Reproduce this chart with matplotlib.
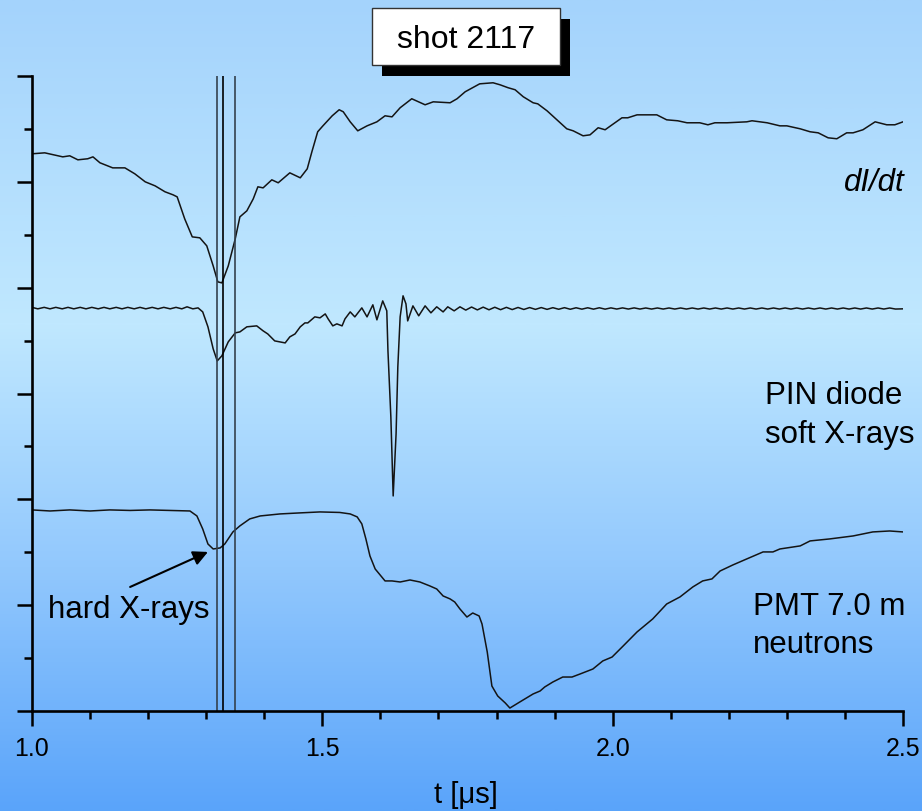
import numpy as np
import matplotlib
matplotlib.use("Agg")
import matplotlib.pyplot as plt
from matplotlib.colors import LinearSegmentedColormap
from matplotlib.patches import Rectangle
from matplotlib.ticker import MultipleLocator

plt.rcParams['font.family'] = ['Liberation Sans', 'DejaVu Sans']

# time base in microseconds, signals in (arbitrary) vertical divisions
didt_t = [1.000, 1.022, 1.053, 1.065, 1.079, 1.096, 1.105, 1.117, 1.139, 1.160,
          1.177, 1.195, 1.212, 1.229, 1.243, 1.250, 1.263, 1.276, 1.289, 1.301,
          1.312, 1.320, 1.327, 1.338, 1.350, 1.358, 1.370, 1.381, 1.389, 1.398,
          1.413, 1.424, 1.444, 1.462, 1.474, 1.482, 1.492, 1.501, 1.517, 1.529,
          1.536, 1.548, 1.561, 1.577, 1.594, 1.608, 1.620, 1.634, 1.654, 1.677,
          1.691, 1.720, 1.732, 1.746, 1.771, 1.794, 1.806, 1.820, 1.832, 1.846,
          1.863, 1.871, 1.887, 1.904, 1.921, 1.932, 1.949, 1.961, 1.975, 1.987,
          1.999, 2.016, 2.026, 2.042, 2.076, 2.093, 2.112, 2.128, 2.150, 2.164,
          2.176, 2.197, 2.231, 2.240, 2.266, 2.288, 2.300, 2.323, 2.340, 2.354,
          2.371, 2.386, 2.403, 2.414, 2.431, 2.452, 2.472, 2.486, 2.500]
didt_v = [5.265, 5.274, 5.236, 5.246, 5.208, 5.218, 5.236, 5.180, 5.132, 5.132,
          5.076, 5.000, 4.962, 4.906, 4.877, 4.858, 4.650, 4.480, 4.471, 4.395,
          4.206, 4.055, 4.045, 4.206, 4.461, 4.669, 4.726, 4.839, 4.953, 4.943,
          5.019, 4.991, 5.085, 5.038, 5.123, 5.284, 5.473, 5.529, 5.624, 5.681,
          5.662, 5.567, 5.482, 5.529, 5.567, 5.624, 5.614, 5.700, 5.785, 5.728,
          5.756, 5.747, 5.785, 5.851, 5.926, 5.936, 5.917, 5.889, 5.870, 5.804,
          5.747, 5.737, 5.671, 5.586, 5.501, 5.482, 5.435, 5.444, 5.511, 5.492,
          5.539, 5.605, 5.605, 5.633, 5.633, 5.586, 5.577, 5.558, 5.558, 5.539,
          5.558, 5.558, 5.567, 5.577, 5.558, 5.529, 5.529, 5.501, 5.473, 5.463,
          5.416, 5.407, 5.463, 5.463, 5.492, 5.567, 5.539, 5.539, 5.567]

pin_t = [1.000, 1.010, 1.021, 1.031, 1.041, 1.052, 1.062, 1.072, 1.083, 1.093,
         1.103, 1.114, 1.124, 1.134, 1.145, 1.155, 1.165, 1.176, 1.186, 1.196,
         1.207, 1.217, 1.227, 1.238, 1.248, 1.258, 1.267, 1.277, 1.286, 1.294,
         1.303, 1.312, 1.319, 1.327, 1.338, 1.350, 1.358, 1.370, 1.387, 1.398,
         1.406, 1.418, 1.427, 1.436, 1.444, 1.453, 1.462, 1.470, 1.475, 1.487,
         1.496, 1.505, 1.510, 1.518, 1.525, 1.534, 1.539, 1.548, 1.556, 1.568,
         1.577, 1.587, 1.594, 1.604, 1.611, 1.613, 1.618, 1.622, 1.627, 1.630,
         1.634, 1.639, 1.644, 1.647, 1.656, 1.666, 1.677, 1.687, 1.697, 1.708,
         1.716, 1.727, 1.737, 1.747, 1.757, 1.767, 1.777, 1.787, 1.797, 1.807,
         1.817, 1.827, 1.837, 1.847, 1.857, 1.867, 1.877, 1.887, 1.897, 1.907,
         1.917, 1.927, 1.937, 1.947, 1.957, 1.967, 1.977, 1.987, 1.997, 2.007,
         2.017, 2.027, 2.037, 2.047, 2.057, 2.067, 2.077, 2.087, 2.097, 2.107,
         2.117, 2.127, 2.137, 2.147, 2.157, 2.167, 2.177, 2.187, 2.197, 2.207,
         2.217, 2.227, 2.237, 2.247, 2.257, 2.267, 2.277, 2.287, 2.297, 2.307,
         2.317, 2.327, 2.337, 2.347, 2.357, 2.367, 2.377, 2.387, 2.397, 2.407,
         2.417, 2.427, 2.437, 2.447, 2.457, 2.467, 2.477, 2.487, 2.500]
pin_v = [3.814, 3.800, 3.814, 3.800, 3.814, 3.800, 3.814, 3.800, 3.814, 3.800,
         3.814, 3.800, 3.814, 3.800, 3.814, 3.800, 3.814, 3.800, 3.814, 3.800,
         3.814, 3.800, 3.814, 3.800, 3.814, 3.800, 3.819, 3.800, 3.809, 3.771,
         3.630, 3.422, 3.308, 3.356, 3.488, 3.573, 3.582, 3.630, 3.639, 3.592,
         3.563, 3.497, 3.488, 3.478, 3.535, 3.563, 3.630, 3.667, 3.667, 3.724,
         3.715, 3.752, 3.705, 3.639, 3.658, 3.639, 3.705, 3.771, 3.724, 3.809,
         3.724, 3.838, 3.696, 3.875, 3.781, 3.403, 2.779, 2.032, 2.618, 3.251,
         3.724, 3.923, 3.847, 3.686, 3.828, 3.734, 3.828, 3.762, 3.819, 3.771,
         3.819, 3.781, 3.819, 3.788, 3.817, 3.790, 3.816, 3.791, 3.815, 3.792,
         3.814, 3.793, 3.813, 3.794, 3.812, 3.795, 3.812, 3.795, 3.811, 3.796,
         3.811, 3.796, 3.810, 3.797, 3.810, 3.797, 3.810, 3.797, 3.809, 3.798,
         3.809, 3.798, 3.809, 3.798, 3.808, 3.798, 3.808, 3.798, 3.808, 3.798,
         3.808, 3.798, 3.808, 3.798, 3.808, 3.798, 3.808, 3.798, 3.808, 3.798,
         3.808, 3.798, 3.808, 3.798, 3.808, 3.798, 3.808, 3.798, 3.808, 3.798,
         3.808, 3.798, 3.808, 3.798, 3.808, 3.798, 3.808, 3.798, 3.808, 3.798,
         3.808, 3.798, 3.808, 3.798, 3.808, 3.798, 3.808, 3.798, 3.800]

pmt_t = [1.000, 1.031, 1.065, 1.100, 1.134, 1.169, 1.203, 1.272, 1.284, 1.294,
         1.303, 1.312, 1.324, 1.332, 1.346, 1.358, 1.375, 1.393, 1.427, 1.462,
         1.496, 1.530, 1.548, 1.560, 1.568, 1.575, 1.582, 1.591, 1.608, 1.620,
         1.634, 1.651, 1.668, 1.685, 1.697, 1.708, 1.720, 1.728, 1.737, 1.749,
         1.759, 1.770, 1.775, 1.784, 1.792, 1.802, 1.815, 1.823, 1.840, 1.863,
         1.875, 1.883, 1.897, 1.914, 1.930, 1.944, 1.966, 1.983, 1.999, 2.018,
         2.042, 2.069, 2.093, 2.116, 2.138, 2.155, 2.171, 2.185, 2.207, 2.231,
         2.259, 2.276, 2.288, 2.323, 2.340, 2.374, 2.414, 2.448, 2.477, 2.500]
pmt_v = [1.900, 1.890, 1.900, 1.890, 1.900, 1.895, 1.900, 1.890, 1.843, 1.720,
         1.578, 1.531, 1.541, 1.578, 1.692, 1.749, 1.815, 1.843, 1.862, 1.872,
         1.881, 1.876, 1.862, 1.834, 1.768, 1.626, 1.465, 1.342, 1.229, 1.229,
         1.219, 1.238, 1.219, 1.182, 1.153, 1.087, 1.059, 1.030, 0.964, 0.888,
         0.926, 0.898, 0.822, 0.558, 0.236, 0.142, 0.076, 0.028, 0.085, 0.161,
         0.189, 0.227, 0.274, 0.321, 0.321, 0.350, 0.397, 0.473, 0.510, 0.614,
         0.747, 0.870, 1.011, 1.078, 1.172, 1.229, 1.248, 1.323, 1.380, 1.437,
         1.503, 1.503, 1.531, 1.560, 1.607, 1.626, 1.654, 1.692, 1.701, 1.692]

# time markers
marker_t = [1.319, 1.329, 1.350]

xtick_vals = [1.0, 1.5, 2.0, 2.5]
xtick_labels = ['1.0', '1.5', '2.0', '2.5']

W, H = 922, 812
fig = plt.figure(figsize=(W / 100, H / 100), dpi=100)

# blue slide background
bg = fig.add_axes([0, 0, 1, 1], zorder=-10)
grad = LinearSegmentedColormap.from_list(
    'slide', [(0.0, '#5aa4fa'), (0.3, '#92c8fd'), (0.6, '#c0e8ff'), (1.0, '#a4d3fc')])
bg.imshow(np.linspace(0, 1, 512)[:, None], cmap=grad, aspect='auto',
          origin='lower', extent=[0, 1, 0, 1])
bg.axis('off')

ax = fig.add_axes([32 / W, 100 / H, 871 / W, 635 / H])
ax.patch.set_alpha(0)
ax.set_xlim(1.0, 2.5)
ax.set_ylim(0, 6)

ax.plot(didt_t, didt_v, color='#141414', lw=1.1, solid_joinstyle='round')
ax.plot(pin_t, pin_v, color='#141414', lw=1.1, solid_joinstyle='round')
ax.plot(pmt_t, pmt_v, color='#141414', lw=1.1, solid_joinstyle='round')

for t, c in zip(marker_t, ['#34414e', 'black', '#34414e']):
    ax.axvline(t, color=c, lw=1.2)

for side in ['top', 'right']:
    ax.spines[side].set_visible(False)
for side in ['left', 'bottom']:
    ax.spines[side].set_linewidth(1.9)

ax.set_xticks(xtick_vals)
ax.set_xticklabels(xtick_labels)
ax.xaxis.set_minor_locator(MultipleLocator(0.1))
ax.yaxis.set_major_locator(MultipleLocator(1))
ax.yaxis.set_minor_locator(MultipleLocator(0.5))
ax.set_yticklabels([])
ax.tick_params(which='major', length=11, width=1.8, direction='out')
ax.tick_params(which='minor', length=6, width=1.8, direction='out')
ax.tick_params(axis='x', labelsize=18, pad=7)

# trace labels
ax.text(2.503, 4.925, 'dI/dt', style='italic', fontsize=22.5, ha='right', va='baseline')
ax.text(2.262, 2.911, 'PIN diode', fontsize=22.5, ha='left', va='baseline')
ax.text(2.262, 2.543, 'soft X-rays', fontsize=22.5, ha='left', va='baseline')
ax.text(2.242, 0.917, 'PMT 7.0 m', fontsize=22.5, ha='left', va='baseline')
ax.text(2.242, 0.558, 'neutrons', fontsize=22.5, ha='left', va='baseline')

ax.text(1.028, 0.888, 'hard X-rays', fontsize=22.5, ha='left', va='baseline')
ax.annotate('', xy=(1.303, 1.503), xytext=(1.169, 1.172),
            arrowprops=dict(arrowstyle='-|>', color='black', lw=1.5,
                            mutation_scale=22, shrinkA=0, shrinkB=0))

fig.text(466 / W, 9 / H, 't [\u03bcs]', fontsize=21, ha='center', va='baseline')

# title box with drop shadow
fig.add_artist(Rectangle((382 / W, 1 - 77 / H), 188 / W, 57 / H,
                         transform=fig.transFigure, facecolor='black', edgecolor='none'))
fig.add_artist(Rectangle((372 / W, 1 - 66 / H), 188 / W, 57 / H,
                         transform=fig.transFigure, facecolor='white',
                         edgecolor='#333333', lw=1.0))
fig.text(466 / W, 1 - 48 / H, 'shot 2117', fontsize=23, ha='center', va='baseline')

fig.savefig('out.png', dpi=100)
